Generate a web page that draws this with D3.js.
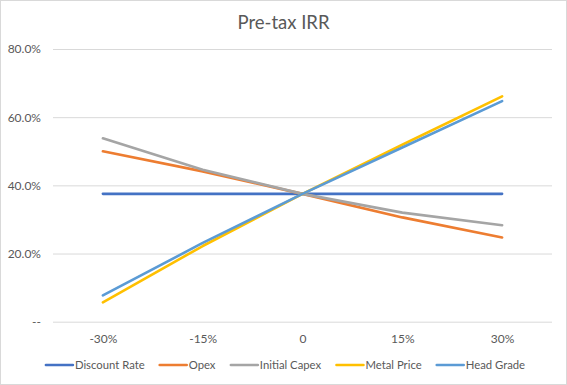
<!DOCTYPE html>
<html>
<head>
<meta charset="utf-8">
<title>Pre-tax IRR</title>
<script src="https://cdn.jsdelivr.net/npm/d3@7"></script>
<style>
	body { margin: 0; background: #fff; }
	svg { display: block; font-family: Lato, "Open Sans", sans-serif; }
</style>
</head>
<body>
<div id="chart"></div>
<script>
	const width = 567, height = 385;

	// data
	const categories = ["-30%", "-15%", "0", "15%", "30%"];
	const seriesNames = ["Discount Rate", "Opex", "Initial Capex", "Metal Price", "Head Grade"];
	const discountRate = [37.5, 37.5, 37.5, 37.5, 37.5];
	const opex = [50.0, 44.1, 37.5, 30.6, 24.7];
	const initialCapex = [53.8, 44.6, 37.5, 32.0, 28.3];
	const metalPrice = [5.7, 22.2, 37.5, 51.9, 66.1];
	const headGrade = [7.7, 23.1, 37.5, 51.1, 64.7];
	const yTicks = [0, 20, 40, 60, 80];
	const colors = ["#4472C4", "#ED7D31", "#A5A5A5", "#FFC000", "#5B9BD5"];

	const series = [discountRate, opex, initialCapex, metalPrice, headGrade];

	const margin = { top: 49, right: 15, bottom: 63, left: 53 };

	const svg = d3.select("#chart").append("svg")
		.attr("width", width)
		.attr("height", height);

	// chart border
	svg.append("rect")
		.attr("x", 0.5).attr("y", 0.5)
		.attr("width", width - 1).attr("height", height - 1)
		.attr("fill", "#fff")
		.attr("stroke", "#D9D9D9");

	const x = d3.scalePoint()
		.domain(categories)
		.range([margin.left, width - margin.right])
		.padding(0.5);

	const y = d3.scaleLinear()
		.domain([0, 80])
		.range([height - margin.bottom - 0.3, margin.top]);

	// title
	svg.append("text")
		.attr("x", width / 2)
		.attr("y", 29)
		.attr("text-anchor", "middle")
		.attr("fill", "#595959")
		.style("font-size", "18.5px")
		.text("Pre-tax IRR");

	// gridlines + y labels
	const yAxis = svg.append("g")
		.attr("transform", "translate(" + margin.left + ",0)")
		.call(d3.axisLeft(y)
			.tickValues(yTicks)
			.tickSize(-(width - margin.left - margin.right))
			.tickPadding(12)
			.tickFormat(d => d === 0 ? "--" : d.toFixed(1) + "%"));
	yAxis.select(".domain").remove();
	yAxis.selectAll(".tick line").attr("stroke", "#D9D9D9");
	yAxis.selectAll(".tick text")
		.attr("fill", "#595959")
		.style("font-size", "12px")
		.style("font-family", "Lato, sans-serif");

	// x labels
	const xAxis = svg.append("g")
		.attr("transform", "translate(0," + (height - margin.bottom) + ")")
		.call(d3.axisBottom(x).tickSize(0).tickPadding(12));
	xAxis.select(".domain").remove();
	xAxis.selectAll(".tick text")
		.attr("fill", "#595959")
		.style("font-size", "12px")
		.style("font-family", "Lato, sans-serif");

	const line = d3.line()
		.x((d, i) => x(categories[i]))
		.y(d => y(d));

	svg.append("g").selectAll("path")
		.data(series)
		.enter()
		.append("path")
		.attr("d", line)
		.attr("fill", "none")
		.attr("stroke", (d, i) => colors[i])
		.attr("stroke-width", 2.6)
		.attr("stroke-linecap", "round")
		.attr("stroke-linejoin", "round");

	// legend
	const legend = svg.append("g");
	const items = legend.selectAll("g")
		.data(seriesNames)
		.enter()
		.append("g");
	items.append("line")
		.attr("x1", 0).attr("x2", 27)
		.attr("y1", 0).attr("y2", 0)
		.attr("stroke", (d, i) => colors[i])
		.attr("stroke-width", 2.6)
		.attr("stroke-linecap", "round");
	items.append("text")
		.attr("x", 29)
		.attr("y", 4)
		.attr("fill", "#595959")
		.style("font-size", "11.3px")
		.text(d => d);

	let pos = 0;
	const gap = 15;
	items.each(function () {
		const w = this.getBBox().width;
		d3.select(this).attr("transform", "translate(" + pos + ",0)");
		pos += w + gap;
	});
	const total = pos - gap;
	legend.attr("transform", "translate(" + ((width - total) / 2 + 2) + ",365)");
</script>
</body>
</html>
